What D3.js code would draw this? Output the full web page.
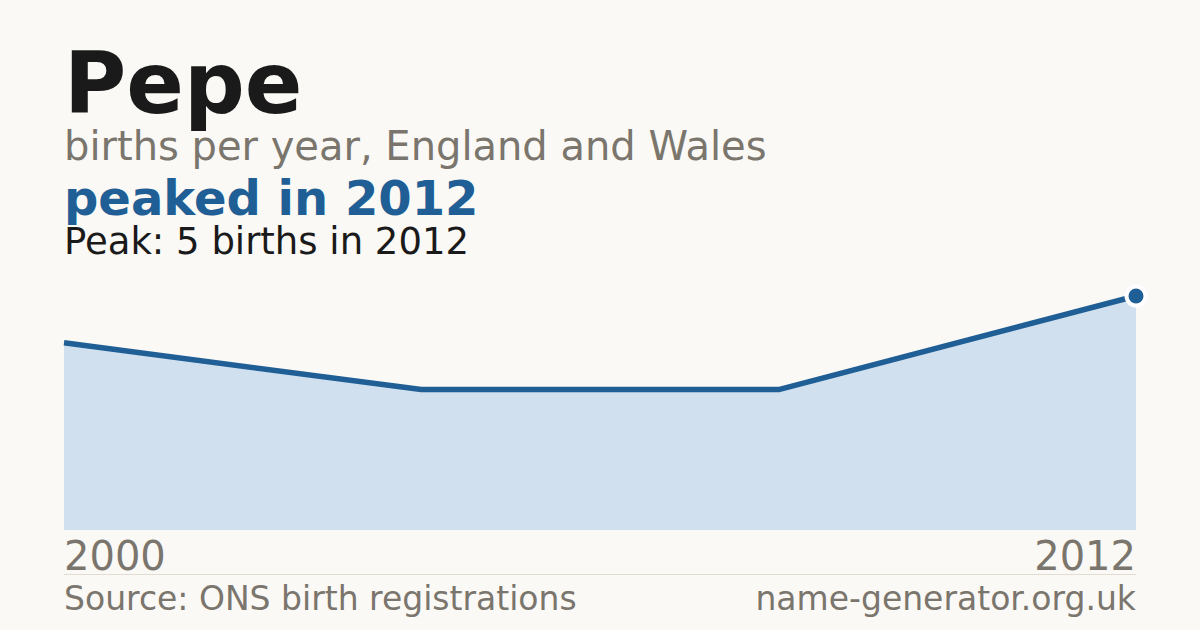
<!doctype html>
<html lang="en">
<head>
  <meta charset="utf-8">
  <title>Pepe - births per year</title>
  <style>
    html, body {
      margin: 0;
      padding: 0;
      background: #faf9f5;
    }
    svg {
      display: block;
      font-family: 'DejaVu Sans', sans-serif;
    }
  </style>
</head>
<body>
  <div id="chart"></div>

  <script src="https://d3js.org/d3.v7.min.js"></script>
  <script>
    // data
    const years = [2000, 2004, 2008, 2012];
    const births = [4, 3, 3, 5];
    const tickLabels = ["2000", "2012"];

    const W = 1200, H = 630;
    const left = 64, right = 1136;
    const baseY = 530, topY = 296;

    const blue = "#1f5f95";
    const grey = "#7a756d";

    const svg = d3.select("#chart")
      .append("svg")
      .attr("width", W)
      .attr("height", H);

    svg.append("rect")
      .attr("width", W)
      .attr("height", H)
      .attr("fill", "#faf9f5");

    // header texts
    svg.append("text")
      .attr("x", left).attr("y", 113)
      .attr("font-size", 85).attr("font-weight", "bold")
      .attr("fill", "#1a1a1a")
      .text("Pepe");

    svg.append("text")
      .attr("x", left).attr("y", 160)
      .attr("font-size", 40)
      .attr("fill", grey)
      .text("births per year, England and Wales");

    svg.append("text")
      .attr("x", left).attr("y", 215)
      .attr("font-size", 48).attr("font-weight", "bold")
      .attr("fill", blue)
      .text("peaked in 2012");

    svg.append("text")
      .attr("x", left).attr("y", 254)
      .attr("font-size", 37)
      .attr("fill", "#1a1a1a")
      .text("Peak: 5 births in 2012");

    // scales
    const x = d3.scaleLinear()
      .domain(d3.extent(years))
      .range([left, right]);

    const y = d3.scaleLinear()
      .domain([0, d3.max(births)])
      .range([baseY, topY]);

    const pts = years.map((yr, i) => ({ year: yr, value: births[i] }));

    const area = d3.area()
      .x(d => x(d.year))
      .y0(baseY)
      .y1(d => y(d.value));

    const line = d3.line()
      .x(d => x(d.year))
      .y(d => y(d.value));

    svg.append("path")
      .datum(pts)
      .attr("d", area)
      .attr("fill", "#d0e0ef");

    svg.append("path")
      .datum(pts)
      .attr("d", line)
      .attr("fill", "none")
      .attr("stroke", blue)
      .attr("stroke-width", 5.5)
      .attr("stroke-linejoin", "round");

    // peak marker
    const peak = pts[d3.maxIndex(pts, d => d.value)];
    svg.append("circle")
      .attr("cx", x(peak.year)).attr("cy", y(peak.value))
      .attr("r", 11.5)
      .attr("fill", "#ffffff");
    svg.append("circle")
      .attr("cx", x(peak.year)).attr("cy", y(peak.value))
      .attr("r", 7.5)
      .attr("fill", blue);

    // year labels
    svg.selectAll(".yr")
      .data(tickLabels)
      .enter().append("text")
      .attr("class", "yr")
      .attr("x", d => x(+d))
      .attr("y", 570)
      .attr("font-size", 40)
      .attr("fill", grey)
      .attr("text-anchor", (d, i) => i === 0 ? "start" : "end")
      .text(d => d);

    // footer
    svg.append("line")
      .attr("x1", left).attr("x2", right)
      .attr("y1", 574.5).attr("y2", 574.5)
      .attr("stroke", "#e2ddd3")
      .attr("stroke-width", 1);

    svg.append("text")
      .attr("x", left).attr("y", 610)
      .attr("font-size", 33)
      .attr("fill", grey)
      .text("Source: ONS birth registrations");

    svg.append("text")
      .attr("x", right).attr("y", 610)
      .attr("font-size", 33)
      .attr("fill", grey)
      .attr("text-anchor", "end")
      .text("name-generator.org.uk");
  </script>
</body>
</html>
